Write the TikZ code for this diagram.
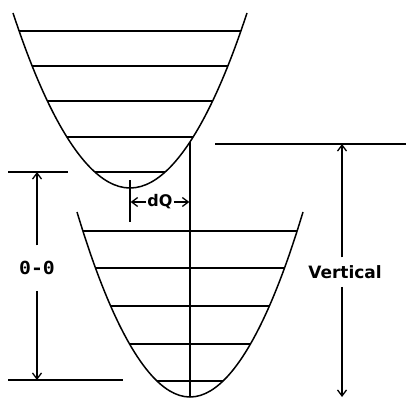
\documentclass[tikz,border=0pt]{standalone}
\usepackage{fontspec}
\usepackage{graphicx}
\setmainfont{DejaVu Sans}
\newfontfamily\monob{DejaVu Sans Mono}[BoldFont=* Bold]
\usetikzlibrary{arrows.meta}
\begin{document}
\begin{tikzpicture}[x=1pt,y=-1pt,line width=1.5pt,
  arr/.style={-{Straight Barb[length=6pt,width=9pt,line width=1.3pt]}},
  lbl/.style={inner sep=1pt,font=\bfseries}]
\useasboundingbox (0,0) rectangle (406,398);
% upper parabola
\draw (13,13) parabola bend (130,188) (247,13);
\foreach \yy/\xl/\xr in {31/19.2/240.8,66/32.3/227.7,101/47.5/212.5,137/66.8/193.2,172/94.6/165.4}
  \draw (\xl,\yy) -- (\xr,\yy);
% lower parabola
\draw (77,212) parabola bend (190,397) (303,212);
\foreach \yy/\xl/\xr in {231/83/297,268/95.6/284.4,306/110.7/269.3,344/129.5/250.5,381/156.8/223.2}
  \draw (\xl,\yy) -- (\xr,\yy);
% vertical transition line and offset marker
\coordinate (vt) at (190,142);
\coordinate (vb) at (190,397);
\draw (vt) -- (vb);
\coordinate (mt) at (130,180);
\coordinate (mb) at (130,222);
\draw (mt) -- (mb);
% dQ
\node[lbl,inner sep=0.5pt] (dq) at (160,202) {\fontsize{16}{17}\selectfont dQ};
\coordinate (dql) at (130,202);
\coordinate (dqr) at (190,202);
\draw[arr,shorten >=0.6pt] (dq.west) -- (dql);
\draw[arr,shorten >=0.6pt] (dq.east) -- (dqr);
% 0-0 dimension
\coordinate (l1a) at (8,172); \coordinate (l1b) at (68,172);
\coordinate (l2a) at (8,380); \coordinate (l2b) at (123,380);
\draw (l1a) -- (l1b);
\draw (l2a) -- (l2b);
\node[inner sep=0pt,minimum height=44pt] (oo) at (37,268) {\scalebox{1.1}[1]{\monob\bfseries\fontsize{18}{19}\selectfont 0-0}};
\draw[arr] (oo.north) -- (37,172);
\draw[arr] (oo.south) -- (37,380);
% vertical dimension
\coordinate (r1a) at (215,144); \coordinate (r1b) at (406,144);
\draw (r1a) -- (r1b);
\node[lbl,minimum height=28pt] (vl) at (345,272) {\fontsize{17}{18}\selectfont Vertical};
\draw[arr] (vl.north -| 342,0) -- (342,144);
\draw[arr] (vl.south -| 342,0) -- (342,397);
\end{tikzpicture}
\end{document}
